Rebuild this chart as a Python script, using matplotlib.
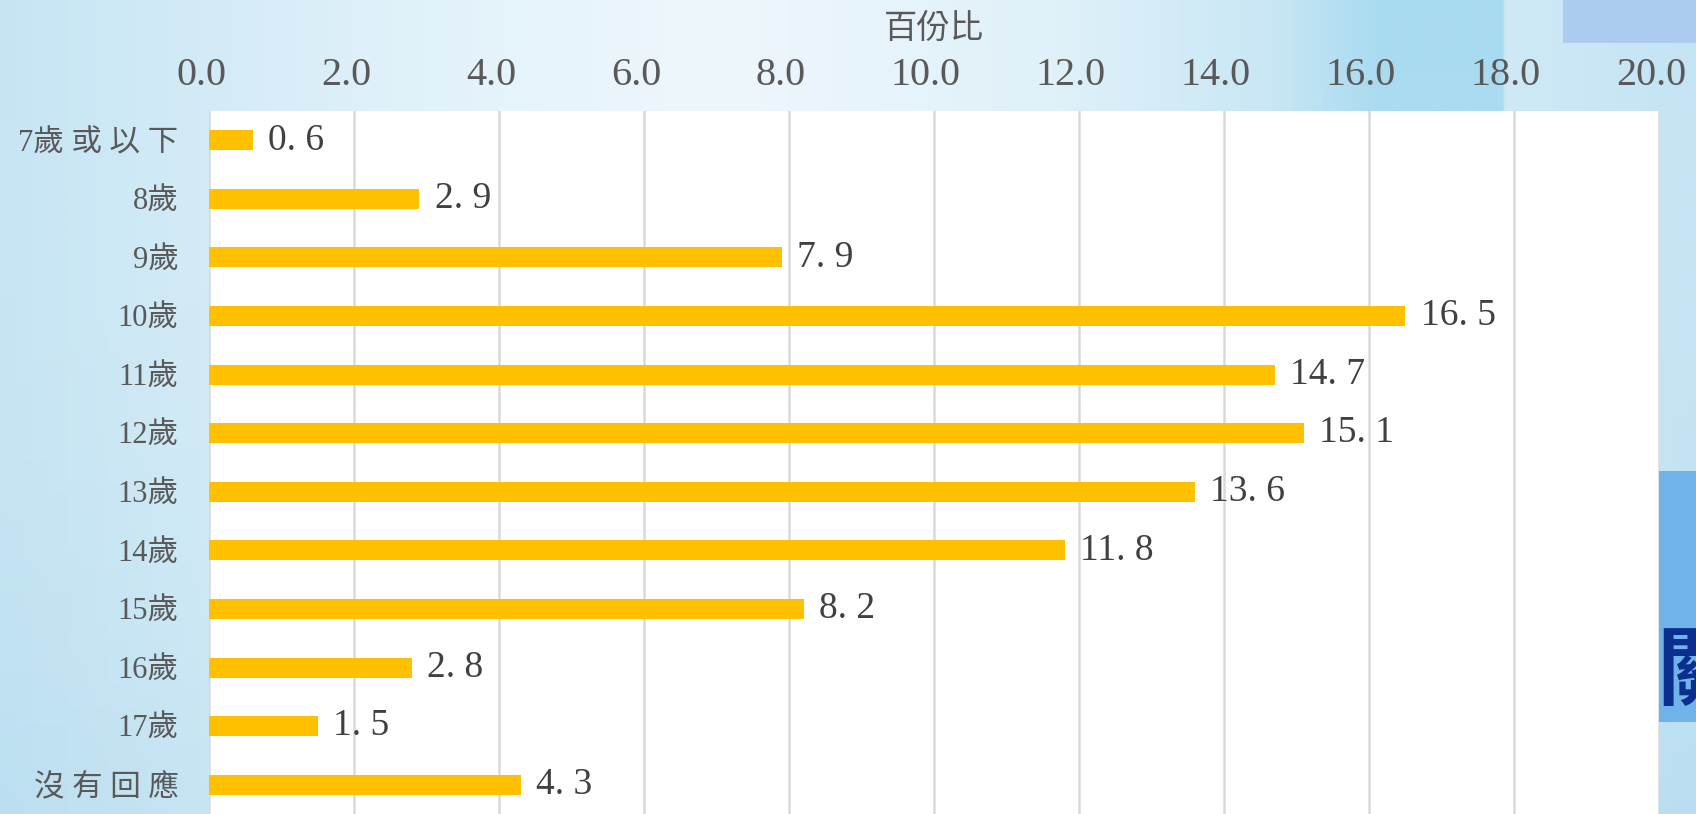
import numpy as np
import matplotlib
matplotlib.use("Agg")
import matplotlib.pyplot as plt
import matplotlib.transforms as mtransforms
from matplotlib.patches import Rectangle
from matplotlib.colors import LinearSegmentedColormap

# data
categories = ['7歲或以下', '8歲', '9歲', '10歲', '11歲', '12歲',
              '13歲', '14歲', '15歲', '16歲', '17歲', '沒有回應']
values = [0.6, 2.9, 7.9, 16.5, 14.7, 15.1, 13.6, 11.8, 8.2, 2.8, 1.5, 4.3]
x_ticks = [0, 2, 4, 6, 8, 10, 12, 14, 16, 18, 20]
x_title = '百份比'


def spaced(s):
    # wide spacing between CJK characters, like the original slide font
    out = ''
    for i, ch in enumerate(s):
        if i > 0 and ord(ch) > 0x2E80 and ord(s[i - 1]) > 0x2E80:
            out += ' '
        out += ch
    return out


W, H = 1696, 814
fig = plt.figure(figsize=(W / 100, H / 100), dpi=100)

# slide-like background gradient
bg = fig.add_axes([0, 0, 1, 1], zorder=-5)
stops = [(0.00, '#c6e5f4'), (0.25, '#e2f2fa'), (0.42, '#eef7fc'),
         (0.62, '#e0f1f9'), (0.75, '#c9e7f5'), (0.815, '#a9dbf0'),
         (0.888, '#a9dbf0'), (0.889, '#cfe9f6'), (1.00, '#c4e4f4')]
cmap = LinearSegmentedColormap.from_list('bg', stops)
grad = np.repeat(np.linspace(0, 1, 600)[None, :], 2, axis=0)
bg.imshow(grad, aspect='auto', cmap=cmap, extent=[0, 1, 0, 1])
shade = np.linspace(0, 1, 200)[:, None] * np.ones((1, 2))
bg.imshow(shade, aspect='auto', cmap=LinearSegmentedColormap.from_list(
    's', [(0, (0.55, 0.78, 0.9, 0.18)), (1, (1, 1, 1, 0.0))]),
    extent=[0, 1, 0, 1], origin='lower')
bg.add_patch(Rectangle((1563 / W, 1 - 43 / H), 1, 43 / H, color='#accbf0', lw=0))
bg.add_patch(Rectangle((1659 / W, 1 - 722 / H), 1, 251 / H, color='#6fb3e8', lw=0))
bg.set_xlim(0, 1)
bg.set_ylim(0, 1)
bg.axis('off')
fig.text(1656 / W, 1 - 673 / H, '關', color='#0b2e8f', fontsize=62,
         fontweight='bold', family=['Noto Sans CJK TC'], ha='left', va='center')

# main chart
ax = fig.add_axes([209 / W, 0, 1450 / W, (H - 111) / H])
ax.set_facecolor('white')
y = np.arange(len(categories))
ax.barh(y, values, height=0.34, color='#FFC000', zorder=3)
for i, v in enumerate(values):
    ax.annotate(f'{v:.1f}'.replace('.', '. '), (v, i), xytext=(11, 0),
                textcoords='offset points', va='center', ha='left',
                fontsize=27, color='#404040', family=['Liberation Serif'])

ax.set_xlim(0, 20)
ax.set_ylim(len(categories) - 0.5, -0.5)
ax.set_xticks(x_ticks)
ax.set_xticklabels([f'{t:.1f}' for t in x_ticks], fontsize=29, color='#595959',
                   family=['Liberation Serif'])
ax.set_yticks(y)
ax.set_yticklabels([spaced(c) for c in categories], fontsize=22, color='#595959',
                   family=['Liberation Serif', 'Noto Sans CJK TC'])
ax.xaxis.tick_top()
ax.xaxis.set_label_position('top')
ax.set_xlabel(x_title, fontsize=24, color='#595959', fontweight='medium',
              family=['Noto Sans CJK TC'], labelpad=14)
ax.tick_params(axis='x', length=0, pad=12)
ax.tick_params(axis='y', length=0, pad=22)
ax.grid(axis='x', color='#d9d9d9', lw=1.8, zorder=0)
ax.set_axisbelow(True)
for s in ax.spines.values():
    s.set_visible(False)

# tick labels sit a little left of their gridlines in the original
shift = mtransforms.ScaledTranslation(-8 / 100, 0, fig.dpi_scale_trans)
for lab in ax.get_xticklabels():
    lab.set_transform(lab.get_transform() + shift)

fig.savefig('out.png', dpi=100)
